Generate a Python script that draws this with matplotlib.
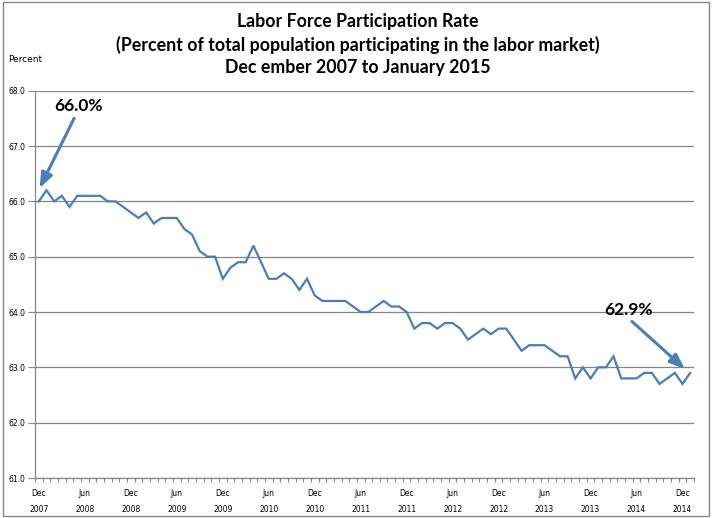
import matplotlib
matplotlib.use("Agg")
import matplotlib.pyplot as plt
from matplotlib.patches import Rectangle

# ---- data ----
months = ["Dec 2007"] + [f"{m} {y}" for y in range(2008, 2015) for m in
          ["Jan", "Feb", "Mar", "Apr", "May", "Jun", "Jul", "Aug", "Sep", "Oct", "Nov", "Dec"]] + ["Jan 2015"]
rate = [66.0,
        66.2, 66.0, 66.1, 65.9, 66.1, 66.1, 66.1, 66.1, 66.0, 66.0, 65.9, 65.8,
        65.7, 65.8, 65.6, 65.7, 65.7, 65.7, 65.5, 65.4, 65.1, 65.0, 65.0, 64.6,
        64.8, 64.9, 64.9, 65.2, 64.9, 64.6, 64.6, 64.7, 64.6, 64.4, 64.6, 64.3,
        64.2, 64.2, 64.2, 64.2, 64.1, 64.0, 64.0, 64.1, 64.2, 64.1, 64.1, 64.0,
        63.7, 63.8, 63.8, 63.7, 63.8, 63.8, 63.7, 63.5, 63.6, 63.7, 63.6, 63.7,
        63.7, 63.5, 63.3, 63.4, 63.4, 63.4, 63.3, 63.2, 63.2, 62.8, 63.0, 62.8,
        63.0, 63.0, 63.2, 62.8, 62.8, 62.8, 62.9, 62.9, 62.7, 62.8, 62.9, 62.7,
        62.9]
tick_labels = ["Dec\n2007", "Jun\n2008", "Dec\n2008", "Jun\n2009", "Dec\n2009",
               "Jun\n2010", "Dec\n2010", "Jun\n2011", "Dec\n2011", "Jun\n2012",
               "Dec\n2012", "Jun\n2013", "Dec\n2013", "Jun\n2014", "Dec\n2014"]
y_ticks = [61.0, 62.0, 63.0, 64.0, 65.0, 66.0, 67.0, 68.0]
title_lines = ["Labor Force Participation Rate",
               "(Percent of total population participating in the labor market)",
               "Dec ember 2007 to January 2015"]
start_label = "66.0%"
end_label = "62.9%"

W, H = 713, 518
fig = plt.figure(figsize=(W / 100, H / 100), dpi=100)
fig.patch.set_facecolor("white")

def fx(px):
    return px / W

def fy(py):
    return 1 - py / H

# outer border
fig.patches.append(Rectangle((fx(3), fy(516)), fx(709) - fx(3), fy(2) - fy(516),
                             transform=fig.transFigure, fill=False,
                             edgecolor="#868686", linewidth=1.0))

left, right, top, bottom = 35, 694, 90.7, 478
ax = fig.add_axes([fx(left), fy(bottom), fx(right) - fx(left), fy(top) - fy(bottom)])

line_color = "#4A7EBB"
grid_color = "#868686"
x = list(range(len(rate)))
ax.plot(x, rate, color=line_color, linewidth=1.6, solid_joinstyle="miter")

ax.set_xlim(-0.5, len(rate) - 0.5)
ax.set_ylim(61.0, 68.0)
ax.set_yticks(y_ticks)
ax.set_yticklabels([f"{v:.1f}" for v in y_ticks], fontsize=5.5, family="DejaVu Sans")
ax.yaxis.grid(True, color=grid_color, linewidth=0.9)
ax.set_axisbelow(True)

ax.set_xticks(list(range(0, len(rate), 6))[:len(tick_labels)])
ax.set_xticklabels(tick_labels, fontsize=5.5, family="DejaVu Sans", linespacing=2.0)
ax.set_xticks([i - 0.5 for i in range(len(rate) + 1)], minor=True)
ax.tick_params(axis="x", which="major", length=0, pad=8)
ax.tick_params(axis="x", which="minor", length=3, color=grid_color, width=0.8)
ax.tick_params(axis="y", which="major", length=5, color=grid_color, width=0.8, pad=2)

for s in ["top", "right"]:
    ax.spines[s].set_visible(False)
for s in ["left", "bottom"]:
    ax.spines[s].set_color(grid_color)
    ax.spines[s].set_linewidth(0.9)

# annotations
arrow_kw = dict(arrowstyle="-|>,head_length=0.9,head_width=0.35", color=line_color,
                linewidth=2.2, shrinkA=0, shrinkB=0)
ax.annotate("", xy=(0.1, 66.24), xytext=(4.6, 67.5), arrowprops=arrow_kw)
ax.text(5.2, 67.72, start_label, ha="center", va="center", fontsize=12.5,
        fontweight="bold", family="Lato")
ax.annotate("", xy=(84.3, 62.97), xytext=(77.4, 63.83), arrowprops=arrow_kw)
ax.text(76.9, 64.03, end_label, ha="center", va="center", fontsize=12.5,
        fontweight="bold", family="Lato")

# title
for i, (t, yy) in enumerate(zip(title_lines, [22, 45, 67])):
    fig.text(fx(358), fy(yy), t, ha="center", va="center", fontsize=12.8,
             fontweight="bold", family="Lato")

fig.text(fx(8), fy(60), "Percent", ha="left", va="center", fontsize=6.5,
         family="DejaVu Sans")

fig.savefig("out.png", dpi=100)
